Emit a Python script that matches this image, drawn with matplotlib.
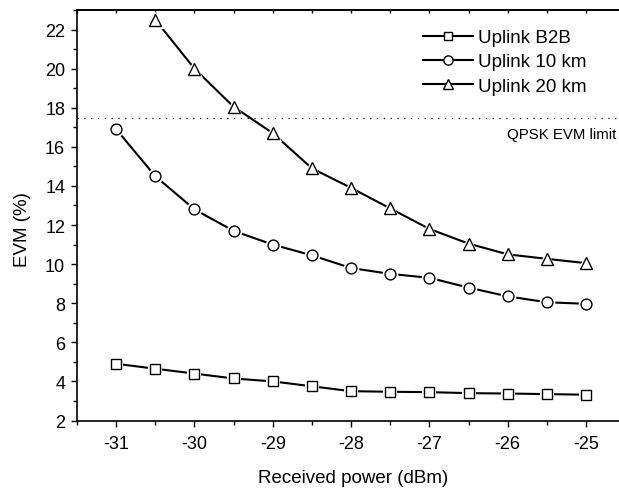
import matplotlib
matplotlib.use("Agg")
import matplotlib.pyplot as plt
from matplotlib.lines import Line2D
from matplotlib.ticker import MultipleLocator, FuncFormatter

plt.rcParams['font.family'] = ['Liberation Sans', 'DejaVu Sans']
plt.rcParams['lines.scale_dashes'] = False

power = [-31, -30.5, -30, -29.5, -29, -28.5, -28, -27.5, -27, -26.5, -26, -25.5, -25]
evm_b2b = [4.9, 4.65, 4.4, 4.15, 4.0, 3.75, 3.5, 3.47, 3.45, 3.4, 3.38, 3.35, 3.32]
evm_10km = [16.9, 14.5, 12.8, 11.7, 11.0, 10.45, 9.8, 9.5, 9.3, 8.8, 8.35, 8.05, 7.97]
power_20km = [-30.5, -30, -29.5, -29, -28.5, -28, -27.5, -27, -26.5, -26, -25.5, -25]
evm_20km = [22.5, 20.0, 18.05, 16.7, 14.9, 13.9, 12.85, 11.8, 11.05, 10.5, 10.27, 10.05]
labels = ['Uplink B2B', 'Uplink 10 km', 'Uplink 20 km']
qpsk_limit = 17.5

fig = plt.figure(figsize=(6.19, 4.89), dpi=100)
ax = fig.add_axes([77/619, (489-421.5)/489, 7*78.3/619, (421.5-11)/489])

series = [(power, evm_b2b, 's', 7.2), (power, evm_10km, 'o', 7.8), (power_20km, evm_20km, '^', 8.8)]
handles = []
for (xs, ys, m, ms), lab in zip(series, labels):
    ax.plot(xs, ys, color='black', lw=1.5, zorder=2, clip_on=False)
    ax.plot(xs, ys, ls='none', marker=m, ms=ms + 3.5, mfc='white', mec='white', mew=0, zorder=3, clip_on=False)
    ax.plot(xs, ys, ls='none', marker=m, ms=ms, mfc='white', mec='black', mew=1.0, zorder=4, clip_on=False)
    handles.append(Line2D([], [], color='black', lw=1.5, marker=m, ms=ms * 0.85, mfc='white', mec='black', mew=1.0))

ax.axhline(qpsk_limit, color='black', lw=0.9, ls=(0, (0.9, 4)), zorder=1)
fig.text(616/619, 1 - 135/489, 'QPSK EVM limit', fontsize=10.8, ha='right', va='center')

ax.set_xlim(-31.5, -24.5)
ax.set_ylim(2, 23)
ax.xaxis.set_major_locator(MultipleLocator(1))
ax.xaxis.set_minor_locator(MultipleLocator(0.5))
ax.yaxis.set_major_locator(MultipleLocator(2))
ax.yaxis.set_minor_locator(MultipleLocator(1))
ax.xaxis.set_major_formatter(FuncFormatter(lambda v, p: f"{int(round(v))}"))
ax.yaxis.set_major_formatter(FuncFormatter(lambda v, p: f"{int(round(v))}"))

ax.tick_params(axis='both', which='major', direction='out', length=4.5, width=1.0, labelsize=13, pad=4)
ax.tick_params(axis='both', which='minor', direction='out', length=2.8, width=1.0)
ax.tick_params(axis='x', which='major', pad=6)
for s in ['left', 'bottom', 'top']:
    ax.spines[s].set_linewidth(1.2)
ax.spines['right'].set_visible(False)

sec = ax.secondary_xaxis('top')
sec.xaxis.set_major_locator(MultipleLocator(1))
sec.xaxis.set_minor_locator(MultipleLocator(0.5))
sec.tick_params(axis='x', which='both', direction='in', length=2, width=1.0, labeltop=False)
sec.spines['top'].set_linewidth(1.2)

ax.set_xlabel('Received power (dBm)', fontsize=13.5)
ax.set_ylabel('EVM (%)', fontsize=13.5)
ax.xaxis.set_label_coords((353-77)/548.1, (421.5-470)/410.5)
ax.yaxis.set_label_coords((22.5-77)/548.1, (421.5-230)/410.5)
ax.yaxis.label.set_va('center')

fig.legend(handles, labels, loc='upper left', bbox_to_anchor=(423/619, 1 - 30/489),
           frameon=False, fontsize=13.5, handlelength=2.65, handletextpad=0.3,
           labelspacing=0.38, borderpad=0, borderaxespad=0, numpoints=1)

fig.savefig('out.png', dpi=100)
